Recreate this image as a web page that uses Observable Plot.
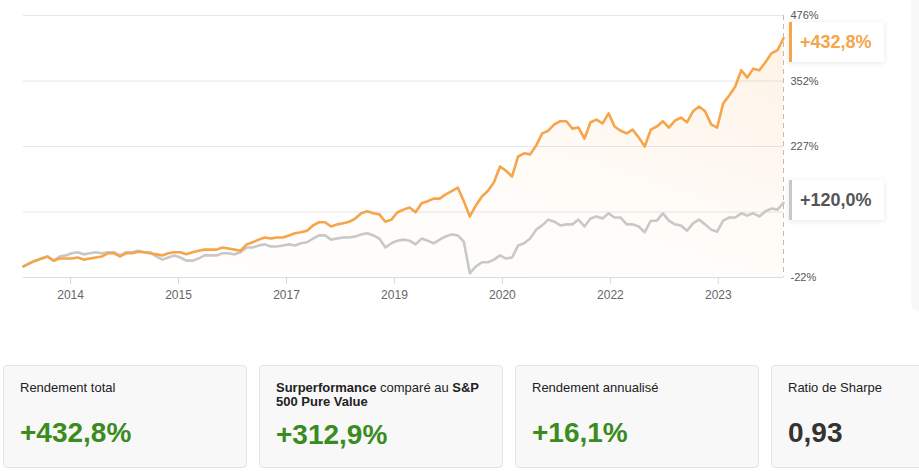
<!DOCTYPE html>
<html>
<head>
<meta charset="utf-8">
<script src="https://cdn.jsdelivr.net/npm/d3@7"></script>
<script src="https://cdn.jsdelivr.net/npm/@observablehq/plot@0.6"></script>
<style>
  html, body { margin: 0; padding: 0; background: #fff; }
  body { width: 919px; height: 476px; overflow: hidden; position: relative;
         font-family: Arial, "Liberation Sans", sans-serif; }
  #strip { position: absolute; left: 911px; top: 0; width: 20px; height: 312px;
           background: #f8f8f8; border-radius: 0 0 0 10px; }
  #chart { position: absolute; left: 0; top: 0; }
  .badge { position: absolute; left: 789px; width: 95px; height: 40px; background: #fff;
           box-shadow: 0 1px 6px rgba(0,0,0,0.10); border-left: 3px solid; box-sizing: border-box;
           font-weight: bold; font-size: 18px; line-height: 40px; padding-left: 8px; }
  .card { position: absolute; top: 365px; width: 244px; height: 103px; background: #f8f8f8;
          border: 1px solid #e4e4e4; border-radius: 4px; box-sizing: border-box; }
  .card .t { position: absolute; left: 16px; top: 15px; font-size: 13px; line-height: 14px; color: #222;
             white-space: nowrap; }
  .card .v { position: absolute; left: 16px; top: 53px; font-size: 28px; line-height: 28px;
             font-weight: bold; color: #3a8c1e; }
</style>
</head>
<body>
<div id="strip"></div>
<div id="chart"></div>
<div id="badges"></div>
<div id="cards"></div>
<script>
// ---- data (cumulative return, %), monthly points ----
const fundReturn = [
  -1, 5, 10, 14, 18, 10, 14, 14, 14, 16,
  12, 14, 16, 18, 24, 24, 18, 24, 24, 27,
  26, 24, 22, 20, 24, 26, 26, 22, 26, 29,
  31, 31, 31, 35, 33, 31, 29, 41, 45, 50,
  54, 52, 54, 54, 58, 62, 64, 67, 77, 83,
  83, 75, 79, 81, 84, 90, 100, 104, 100, 98,
  84, 88, 102, 107, 111, 102, 119, 123, 128, 128,
  136, 142, 149, 123, 94, 115, 132, 143, 159, 189,
  181, 170, 208, 214, 212, 229, 252, 257, 269, 275,
  275, 261, 263, 242, 273, 278, 271, 290, 265, 257,
  252, 259, 244, 227, 259, 265, 275, 263, 276, 282,
  273, 294, 303, 294, 269, 263, 309, 324, 341, 372,
  358, 375, 372, 387, 404, 410, 432.8
];
const benchReturn = [
  -1, 5, 10, 14, 18, 10, 18, 20, 24, 26,
  22, 24, 26, 24, 26, 26, 20, 26, 26, 29,
  26, 26, 18, 12, 16, 20, 16, 10, 10, 14,
  20, 20, 20, 24, 24, 22, 26, 35, 35, 39,
  41, 37, 37, 39, 41, 39, 43, 45, 52, 58,
  58, 50, 52, 54, 54, 56, 60, 62, 58, 52,
  35, 43, 48, 50, 48, 41, 52, 48, 43, 50,
  56, 60, 58, 46, -14, -1, 7, 7, 12, 20,
  14, 16, 39, 43, 52, 69, 77, 88, 84, 77,
  79, 79, 88, 75, 90, 94, 90, 100, 92, 92,
  79, 79, 75, 64, 86, 86, 100, 86, 79, 77,
  67, 81, 88, 79, 69, 65, 86, 92, 92, 100,
  96, 100, 94, 104, 109, 107, 120.0
];
const tickPos = [7.8, 25.7, 43.6, 61.5, 79.4, 97.3, 115.2];
const tickLabels = ["2014", "2015", "2017", "2019", "2020", "2022", "2023"];
const gridTicks = [-22, 102.5, 227, 351.5, 476];
const labelTicks = [-22, 227, 351.5, 476];   // 102.5 label is hidden behind the badge
const badgeLabels = ["+432,8%", "+120,0%"];
const cardTitles = [
  "Rendement total",
  "<b>Surperformance</b> comparé au <b>S&amp;P</b><br><b>500 Pure Value</b>",
  "Rendement annualisé",
  "Ratio de Sharpe"
];
const cardValues = ["+432,8%", "+312,9%", "+16,1%", "0,93"];

// ---- chart ----
const rows = fundReturn.map((v, i) => ({ i, fund: v, bench: benchReturn[i] }));
const last = rows.length - 1;
const FONT = 'Arial, "Liberation Sans", sans-serif';

const plot = Plot.plot({
  width: 919, height: 310,
  marginLeft: 23, marginRight: 136, marginTop: 15, marginBottom: 33,
  style: { fontFamily: FONT, background: "transparent", overflow: "visible" },
  x: { domain: [0, last], label: null },
  y: { domain: [-22, 476], label: null },
  marks: [
    Plot.ruleY(gridTicks.slice(1), { stroke: "#e6e6e6", strokeWidth: 1 }),
    Plot.areaY(rows, { x: "i", y1: -22, y2: "fund", fill: "url(#fundGrad)" }),
    Plot.ruleY([-22], { stroke: "#dcdcdc", strokeWidth: 1 }),
    Plot.ruleX([last], { stroke: "#bdbdbd", strokeDasharray: "5,4", strokeWidth: 1 }),
    Plot.line(rows, { x: "i", y: "bench", stroke: "#c8c8c8", strokeWidth: 2.6, strokeLinejoin: "round" }),
    Plot.line(rows, { x: "i", y: "fund", stroke: "#f6a54a", strokeWidth: 2.6, strokeLinejoin: "round" }),
    Plot.axisX({ ticks: tickPos, tickFormat: d => tickLabels[tickPos.indexOf(d)],
                 tickSize: 7, tickPadding: 6, fontSize: 12, stroke: "#d8d8d8", fill: "#666", label: null }),
    Plot.axisY({ anchor: "right", ticks: labelTicks, tickFormat: d => Math.round(d) + "%",
                 tickSize: 0, tickPadding: 7, fontSize: 11, fill: "#555", label: null })
  ]
});
document.getElementById("chart").appendChild(plot);

const svg = d3.select(plot.tagName.toLowerCase() === "svg" ? plot : plot.querySelector("svg"));
const defs = svg.insert("defs", ":first-child");
const grad = defs.append("linearGradient").attr("id", "fundGrad")
  .attr("x1", 0).attr("y1", 1).attr("x2", 1).attr("y2", 0);
grad.append("stop").attr("offset", "0%").attr("stop-color", "#f7a64a").attr("stop-opacity", 0);
grad.append("stop").attr("offset", "55%").attr("stop-color", "#f7a64a").attr("stop-opacity", 0.04);
grad.append("stop").attr("offset", "100%").attr("stop-color", "#f7a64a").attr("stop-opacity", 0.14);

// ---- end-value badges, placed with the y scale ----
const yScale = plot.scale("y");
const badgeDefs = [
  { v: fundReturn[last], label: badgeLabels[0], color: "#f6a54a", border: "#f6a54a" },
  { v: benchReturn[last], label: badgeLabels[1], color: "#555", border: "#c8c8c8" }
];
const badges = document.getElementById("badges");
badgeDefs.forEach(b => {
  const d = document.createElement("div");
  d.className = "badge";
  d.style.top = Math.max(22, yScale.apply(b.v) - 22) + "px";
  d.style.borderLeftColor = b.border;
  d.style.color = b.color;
  d.textContent = b.label;
  badges.appendChild(d);
});

// ---- stat cards ----
const cards = document.getElementById("cards");
cardTitles.forEach((t, k) => {
  const c = document.createElement("div");
  c.className = "card";
  c.style.left = (3 + k * 256) + "px";
  const tt = document.createElement("div");
  tt.className = "t";
  tt.innerHTML = t;
  const vv = document.createElement("div");
  vv.className = "v";
  vv.textContent = cardValues[k];
  if (k === 1) vv.style.top = "55px";
  if (k === 3) vv.style.color = "#333";
  c.appendChild(tt); c.appendChild(vv);
  cards.appendChild(c);
});
</script>
</body>
</html>
